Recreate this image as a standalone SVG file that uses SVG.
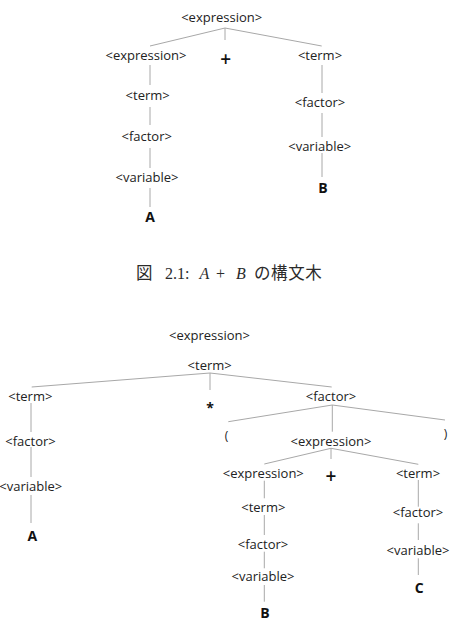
<svg xmlns="http://www.w3.org/2000/svg" width="451" height="644" viewBox="0 0 451 644">
<style>
.t{font-family:"Open Sans","DejaVu Sans",sans-serif;font-size:13px;fill:#222222;text-anchor:middle}
.v{font-family:"Open Sans","DejaVu Sans",sans-serif;font-size:14px;font-weight:bold;fill:#111111;text-anchor:middle}
.op{font-family:"Open Sans","DejaVu Sans",sans-serif;font-size:19px;font-weight:600;fill:#111111;text-anchor:middle}
.st{font-family:"Open Sans","DejaVu Sans",sans-serif;font-size:14px;font-weight:bold;fill:#111111;text-anchor:middle}
.p{font-family:"Open Sans","DejaVu Sans",sans-serif;font-size:12px;fill:#222222;text-anchor:middle}
.c{font-family:"Liberation Serif","Noto Sans CJK JP",serif;font-size:16px;fill:#2b2b2b}
.cj{font-family:"Noto Sans CJK JP",sans-serif;font-size:16.5px;fill:#2b2b2b}
.e line{stroke:#a8a8a8;stroke-width:1;fill:none}
</style>
<rect width="451" height="644" fill="#ffffff"/>
<g class="e" id="connectors">
<line x1="225" y1="28" x2="150" y2="46"/>
<line x1="225" y1="28" x2="225" y2="40"/>
<line x1="225" y1="28" x2="321.7" y2="46"/>
<line x1="150" y1="65" x2="150" y2="85"/>
<line x1="150" y1="107" x2="150" y2="125"/>
<line x1="150" y1="148" x2="150" y2="168"/>
<line x1="150" y1="188" x2="150" y2="207"/>
<line x1="322" y1="65" x2="322" y2="93"/>
<line x1="322" y1="113" x2="322" y2="137"/>
<line x1="322" y1="153" x2="322" y2="177"/>
<line x1="210" y1="373" x2="31.7" y2="387"/>
<line x1="210" y1="373" x2="210" y2="390"/>
<line x1="210" y1="373" x2="331.7" y2="387"/>
<line x1="31" y1="403" x2="31" y2="432"/>
<line x1="31" y1="447" x2="31" y2="477"/>
<line x1="31" y1="495" x2="31" y2="523"/>
<line x1="332.3" y1="405" x2="228.3" y2="421.7"/>
<line x1="332.3" y1="405" x2="332.3" y2="431.7"/>
<line x1="332.3" y1="405" x2="445" y2="420"/>
<line x1="331" y1="448.3" x2="264.3" y2="464"/>
<line x1="331" y1="448.3" x2="331" y2="459"/>
<line x1="331" y1="448.3" x2="418.3" y2="464.3"/>
<line x1="264.3" y1="480.7" x2="264.3" y2="498.3"/>
<line x1="264.3" y1="515" x2="264.3" y2="535"/>
<line x1="264.3" y1="551.7" x2="264.3" y2="568.3"/>
<line x1="264.3" y1="585" x2="264.3" y2="601.7"/>
<line x1="418.3" y1="480" x2="418.3" y2="506.7"/>
<line x1="418.3" y1="523.3" x2="418.3" y2="540"/>
<line x1="418.3" y1="558.3" x2="418.3" y2="575"/>
</g>
<g id="t1-expr"><text class="t" x="221.7" y="21.5">&lt;expression&gt;</text></g>
<g id="t1-expr2"><text class="t" x="146" y="59.5">&lt;expression&gt;</text></g>
<g id="t1-plus"><text class="op" x="225.7" y="65.5">+</text></g>
<g id="t1-term-r"><text class="t" x="320" y="59.5">&lt;term&gt;</text></g>
<g id="t1-term-l"><text class="t" x="147.7" y="100.2">&lt;term&gt;</text></g>
<g id="t1-factor-l"><text class="t" x="146.7" y="141.2">&lt;factor&gt;</text></g>
<g id="t1-variable-l"><text class="t" x="147" y="182.2">&lt;variable&gt;</text></g>
<g id="t1-A"><text class="v" x="150" y="222">A</text></g>
<g id="t1-factor-r"><text class="t" x="320" y="106.5">&lt;factor&gt;</text></g>
<g id="t1-variable-r"><text class="t" x="319.7" y="150.5">&lt;variable&gt;</text></g>
<g id="t1-B"><text class="v" x="323" y="193">B</text></g>
<g id="caption">
<text class="cj" x="136" y="278.5">図</text>
<text class="c" x="165" y="278.5">2.1:</text>
<text class="c" x="199.5" y="278.5" font-style="italic">A</text>
<text class="c" x="216" y="278.5">+</text>
<text class="c" x="236" y="278.5" font-style="italic">B</text>
<text class="cj" x="254" y="278.5" letter-spacing="0.6">の構文木</text>
</g>
<g id="t2-expr"><text class="t" x="209.5" y="339.5">&lt;expression&gt;</text></g>
<g id="t2-term"><text class="t" x="209.7" y="369.5">&lt;term&gt;</text></g>
<g id="t2-term-l"><text class="t" x="30.3" y="400.5">&lt;term&gt;</text></g>
<g id="t2-star"><text class="st" x="210" y="413">*</text></g>
<g id="t2-factor-r"><text class="t" x="331" y="400.5">&lt;factor&gt;</text></g>
<g id="t2-factor-l"><text class="t" x="30.5" y="445.5">&lt;factor&gt;</text></g>
<g id="t2-variable-l"><text class="t" x="30.8" y="490.5">&lt;variable&gt;</text></g>
<g id="t2-A"><text class="v" x="32.3" y="540.5">A</text></g>
<g id="t2-lparen"><text class="p" x="226.5" y="439.5">(</text></g>
<g id="t2-expr-m"><text class="t" x="331" y="445.5">&lt;expression&gt;</text></g>
<g id="t2-rparen"><text class="p" x="445.5" y="437.5">)</text></g>
<g id="t2-expr-s"><text class="t" x="263.3" y="477.8">&lt;expression&gt;</text></g>
<g id="t2-plus"><text class="op" x="331" y="483.2">+</text></g>
<g id="t2-term-s"><text class="t" x="418" y="477.8">&lt;term&gt;</text></g>
<g id="t2-term-b"><text class="t" x="263.3" y="511.8">&lt;term&gt;</text></g>
<g id="t2-factor-b"><text class="t" x="263" y="548.5">&lt;factor&gt;</text></g>
<g id="t2-variable-b"><text class="t" x="263" y="581.2">&lt;variable&gt;</text></g>
<g id="t2-B"><text class="v" x="265" y="617.7">B</text></g>
<g id="t2-factor-c"><text class="t" x="418" y="517.2">&lt;factor&gt;</text></g>
<g id="t2-variable-c"><text class="t" x="418" y="554.5">&lt;variable&gt;</text></g>
<g id="t2-C"><text class="v" x="419.3" y="592.7">C</text></g>
</svg>
